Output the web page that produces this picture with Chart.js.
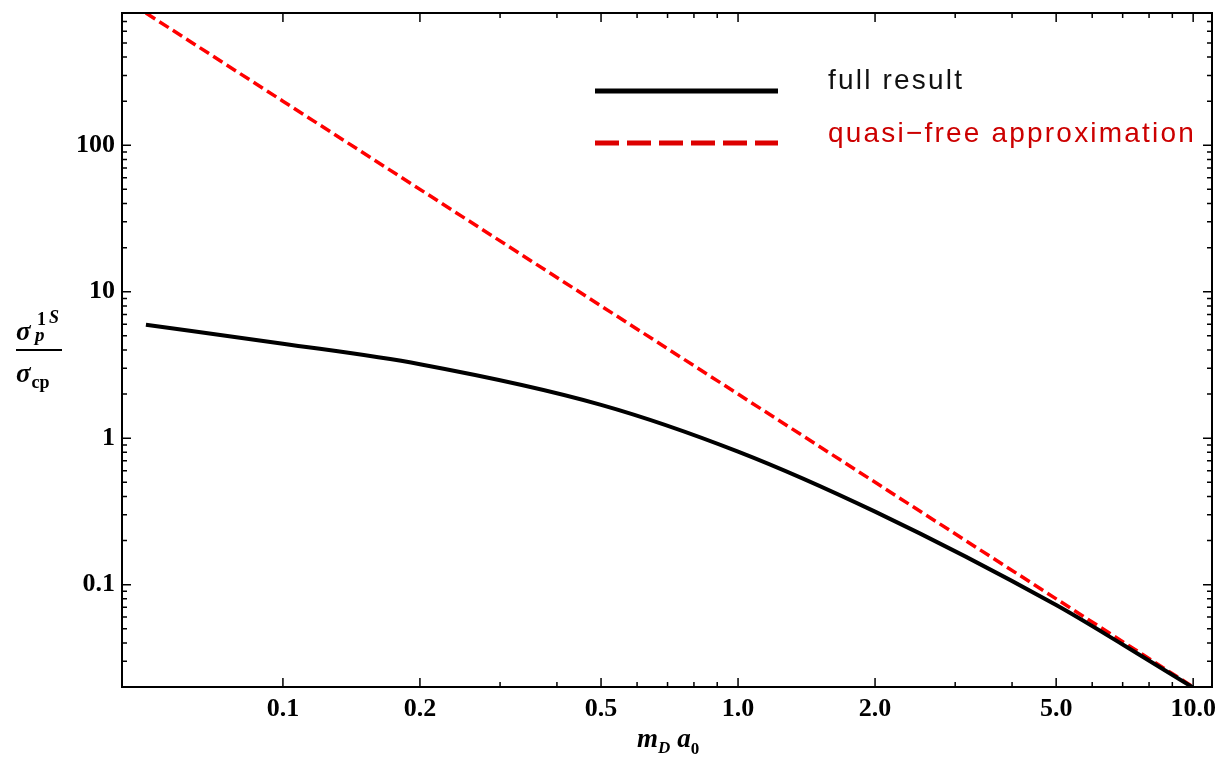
<!DOCTYPE html>
<html>
<head>
<meta charset="utf-8">
<script src="https://cdn.jsdelivr.net/npm/chart.js@4.4.0/dist/chart.umd.min.js"></script>
<style>
  body { margin: 0; background: #fff; }
  #wrap { width: 1217px; height: 760px; }
</style>
</head>
<body>
<div id="wrap"><canvas id="myChart" width="1217" height="760"></canvas></div>
<script>
// values (m_D a_0 vs sigma ratio)
const xFull = [0.05, 0.1, 0.2, 0.5, 1.0, 2.0, 5.0, 7.0, 10.0];
const yFull = [5.95, 4.42, 3.20, 1.69, 0.81, 0.315, 0.0725, 0.039, 0.0198];

const xQuasi = [0.05, 0.1, 1.0, 10.0];
const yQuasi = [800, 200, 2, 0.02];

const seriesLabels = ['full result', 'quasi\u2212free approximation'];

const xTicks = [0.1, 0.2, 0.5, 1, 2, 5, 10];
const xTickLabels = ['0.1', '0.2', '0.5', '1.0', '2.0', '5.0', '10.0'];
const xMinor = [0.3, 0.4, 0.6, 0.7, 0.8, 0.9, 3, 4, 6, 7, 8, 9];

const yTicks = [0.1, 1, 10, 100];
const yTickLabels = ['0.1', '1', '10', '100'];
const yMinor = [0.02, 0.03, 0.04, 0.05, 0.06, 0.07, 0.08, 0.09,
                0.2, 0.3, 0.4, 0.5, 0.6, 0.7, 0.8, 0.9,
                2, 3, 4, 5, 6, 7, 8, 9,
                20, 30, 40, 50, 60, 70, 80, 90,
                200, 300, 400, 500, 600, 700];

const tickFont = { family: '"Liberation Serif", "Times New Roman", serif', size: 26, weight: 'bold' };

// frame with inward ticks on all four sides
const frameTicks = {
    id: 'frameTicks',
    afterDraw(chart) {
        const ctx = chart.ctx;
        const a = chart.chartArea;
        const xs = chart.scales.x;
        const ys = chart.scales.y;
        ctx.save();
        ctx.strokeStyle = '#000';
        ctx.lineWidth = 1.5;
        function tickX(v, len) {
            const px = xs.getPixelForValue(v);
            ctx.beginPath();
            ctx.moveTo(px, a.bottom); ctx.lineTo(px, a.bottom - len);
            ctx.moveTo(px, a.top); ctx.lineTo(px, a.top + len);
            ctx.stroke();
        }
        function tickY(v, len) {
            const py = ys.getPixelForValue(v);
            ctx.beginPath();
            ctx.moveTo(a.left, py); ctx.lineTo(a.left + len, py);
            ctx.moveTo(a.right, py); ctx.lineTo(a.right - len, py);
            ctx.stroke();
        }
        xTicks.forEach(v => tickX(v, 9));
        xMinor.forEach(v => tickX(v, 5));
        yTicks.forEach(v => tickY(v, 9));
        yMinor.forEach(v => tickY(v, 5));
        ctx.lineWidth = 2;
        ctx.strokeRect(a.left, a.top, a.right - a.left, a.bottom - a.top);
        ctx.restore();
    }
};

// legend in the upper right, Mathematica style
const plotLegend = {
    id: 'plotLegend',
    afterDraw(chart) {
        const ctx = chart.ctx;
        ctx.save();
        ctx.lineWidth = 5;
        ctx.strokeStyle = '#000';
        ctx.beginPath(); ctx.moveTo(595, 91); ctx.lineTo(778, 91); ctx.stroke();
        ctx.strokeStyle = 'rgb(221, 0, 0)';
        ctx.setLineDash([24, 8]);
        ctx.beginPath(); ctx.moveTo(595, 143); ctx.lineTo(778, 143); ctx.stroke();
        ctx.setLineDash([]);
        ctx.font = '28px "Liberation Sans", Arial, sans-serif';
        ctx.letterSpacing = '2.2px';
        ctx.textBaseline = 'alphabetic';
        ctx.fillStyle = '#111';
        ctx.fillText(chart.data.datasets[0].label, 828, 89);
        ctx.fillStyle = 'rgb(204, 0, 0)';
        ctx.fillText(chart.data.datasets[1].label, 828, 142);
        ctx.restore();
    }
};

// axis titles with sub/superscripts
const axisTitles = {
    id: 'axisTitles',
    afterDraw(chart) {
        const ctx = chart.ctx;
        const serif = '"Liberation Serif", "Times New Roman", serif';
        ctx.save();
        ctx.fillStyle = '#000';
        ctx.textBaseline = 'alphabetic';

        function put(text, font, x, y) {
            ctx.font = font;
            ctx.fillText(text, x, y);
            return x + ctx.measureText(text).width;
        }

        // y: sigma_p^{1S} / sigma_cp
        put('\u03c3', 'italic bold 27px ' + serif, 16, 340);
        put('p', 'italic bold 19px ' + serif, 35, 341);
        put('1', 'bold 18px ' + serif, 37, 325);
        put('S', 'italic bold 18px ' + serif, 49, 323);
        ctx.fillRect(16, 349, 46, 2);
        let x = put('\u03c3', 'italic bold 27px ' + serif, 16, 382);
        put('cp', 'bold 18px ' + serif, x + 1, 388);

        // x: m_D a_0
        x = put('m', 'italic bold 27px ' + serif, 637, 747);
        x = put('D', 'italic bold 17px ' + serif, x, 753);
        x = put('a', 'italic bold 27px ' + serif, x + 7, 747);
        put('0', 'bold 17px ' + serif, x, 754);
        ctx.restore();
    }
};

function noPad(s) {
    s.paddingLeft = 0;
    s.paddingRight = 0;
    s.paddingTop = 0;
    s.paddingBottom = 0;
}

const config = {
    type: 'line',
    data: {
        datasets: [
            {
                label: seriesLabels[0],
                data: xFull.map((v, i) => ({ x: v, y: yFull[i] })),
                borderColor: '#000',
                borderWidth: 4,
                pointRadius: 0,
                cubicInterpolationMode: 'monotone'
            },
            {
                label: seriesLabels[1],
                data: xQuasi.map((v, i) => ({ x: v, y: yQuasi[i] })),
                borderColor: 'rgb(255, 0, 0)',
                borderWidth: 3.5,
                borderDash: [11, 5],
                pointRadius: 0
            }
        ]
    },
    options: {
        responsive: false,
        animation: false,
        events: [],
        layout: { padding: { top: 13, right: 5, left: 0, bottom: 0 } },
        plugins: {
            legend: { display: false },
            tooltip: { enabled: false }
        },
        scales: {
            x: {
                type: 'logarithmic',
                min: 0.0443,
                max: 11.0,
                grid: { display: false, drawTicks: false },
                border: { display: false },
                afterBuildTicks: s => { s.ticks = xTicks.map(v => ({ value: v })); },
                afterFit: s => { s.height = 73; noPad(s); },
                ticks: {
                    autoSkip: false,
                    maxRotation: 0,
                    padding: 7,
                    color: '#000',
                    font: tickFont,
                    callback: (v, i) => xTickLabels[i]
                }
            },
            y: {
                type: 'logarithmic',
                min: 0.02,
                max: 800,
                grid: { display: false, drawTicks: false },
                border: { display: false },
                afterBuildTicks: s => { s.ticks = yTicks.map(v => ({ value: v })); },
                afterFit: s => { s.width = 122; noPad(s); },
                ticks: {
                    autoSkip: false,
                    padding: 7,
                    color: '#000',
                    font: tickFont,
                    callback: (v, i) => yTickLabels[i]
                }
            }
        }
    },
    plugins: [frameTicks, plotLegend, axisTitles]
};

let myChart = document.getElementById('myChart');
new Chart(myChart, config);
</script>
</body>
</html>
